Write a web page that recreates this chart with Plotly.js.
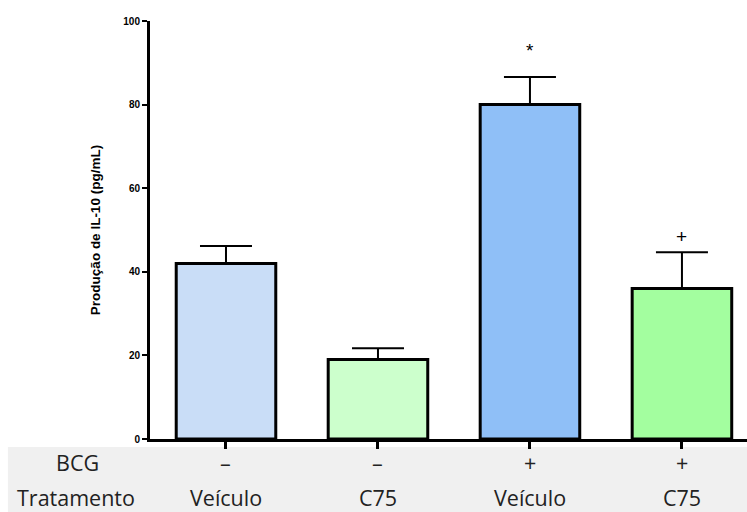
<!DOCTYPE html>
<html>
<head>
<meta charset="utf-8">
<script src="https://cdn.plot.ly/plotly-3.0.1.min.js"></script>
<style>html,body{margin:0;padding:0;background:#fff;}#chart{width:747px;height:512px;}</style>
</head>
<body>
<div id="chart"></div>
<script>
// Data
var groups = ["g1", "g2", "g3", "g4"];
var values = [42, 19, 80, 36];
var errPlus = [4.2, 2.7, 6.6, 8.7];
var bcgLabels = ["–", "–", "+", "+"];
var treatLabels = ["Veículo", "C75", "Veículo", "C75"];
var barColors = ["#c9ddf7", "#ccffcc", "#8fbff7", "#a3fe9f"];
var marks = [{idx: 2, text: "*", y: 93}, {idx: 3, text: "+", y: 48.5}];

var xpos = groups.map(function(_, i){ return i; });

var trace = {
  type: "bar",
  x: xpos,
  y: values,
  width: 0.655,
  marker: {color: barColors, line: {color: "#000", width: 3}},
  error_y: {type: "data", symmetric: false, array: errPlus, arrayminus: values.map(function(){return 0;}),
            color: "#000", thickness: 2, width: 26},
  hoverinfo: "none"
};

var annotations = [];
var tableFont = {family: "Open Sans, Noto Sans, sans-serif", size: 21.5, color: "#222"};
var rowBCG = -0.057, rowTrat = -0.139;
annotations.push({xref: "paper", yref: "paper", x: -0.121, y: rowBCG, text: "BCG", showarrow: false, font: tableFont, xanchor: "center", yanchor: "middle"});
annotations.push({xref: "paper", yref: "paper", x: -0.124, y: rowTrat, text: "Tratamento", showarrow: false, font: tableFont, xanchor: "center", yanchor: "middle"});
xpos.forEach(function(x, i){
  annotations.push({xref: "x", yref: "paper", x: x, y: rowBCG, text: bcgLabels[i], showarrow: false, font: tableFont, xanchor: "center", yanchor: "middle"});
  annotations.push({xref: "x", yref: "paper", x: x, y: rowTrat, text: treatLabels[i], showarrow: false, font: tableFont, xanchor: "center", yanchor: "middle"});
});
marks.forEach(function(m){
  annotations.push({xref: "x", yref: "y", x: xpos[m.idx], y: m.y, text: m.text, showarrow: false,
    font: {family: "Liberation Sans, Arial, sans-serif", size: 19, color: "#000"}, xanchor: "center", yanchor: "middle"});
});

var layout = {
  width: 747, height: 512,
  margin: {l: 150, r: 0, t: 21, b: 73},
  paper_bgcolor: "#fff", plot_bgcolor: "#fff",
  showlegend: false,
  xaxis: {range: [-0.5, 3.428], showgrid: false, zeroline: false, showline: true, linecolor: "#000", linewidth: 3,
          ticks: "outside", ticklen: 7, tickwidth: 3, tickcolor: "#000", tickvals: xpos, showticklabels: false, fixedrange: true},
  yaxis: {range: [0, 100], showgrid: false, zeroline: false, showline: true, linecolor: "#000", linewidth: 3,
          ticks: "outside", ticklen: 5, tickwidth: 2, tickcolor: "#000", tickvals: [0, 20, 40, 60, 80, 100],
          tickfont: {family: "Liberation Sans, Arial, sans-serif", size: 10, color: "#000", weight: "bold"},
          title: {text: "<b>Produção de IL-10 (pg/mL)</b>", font: {family: "Liberation Sans, Arial, sans-serif", size: 13.5, color: "#000"}, standoff: 20},
          fixedrange: true},
  shapes: [{type: "rect", xref: "paper", yref: "paper", x0: -0.238, x1: 1, y0: -0.0191, y1: -0.175,
            fillcolor: "#f0f0f0", line: {width: 0}, layer: "below"}],
  annotations: annotations
};

Plotly.newPlot("chart", [trace], layout, {staticPlot: true, displayModeBar: false});
</script>
</body>
</html>
